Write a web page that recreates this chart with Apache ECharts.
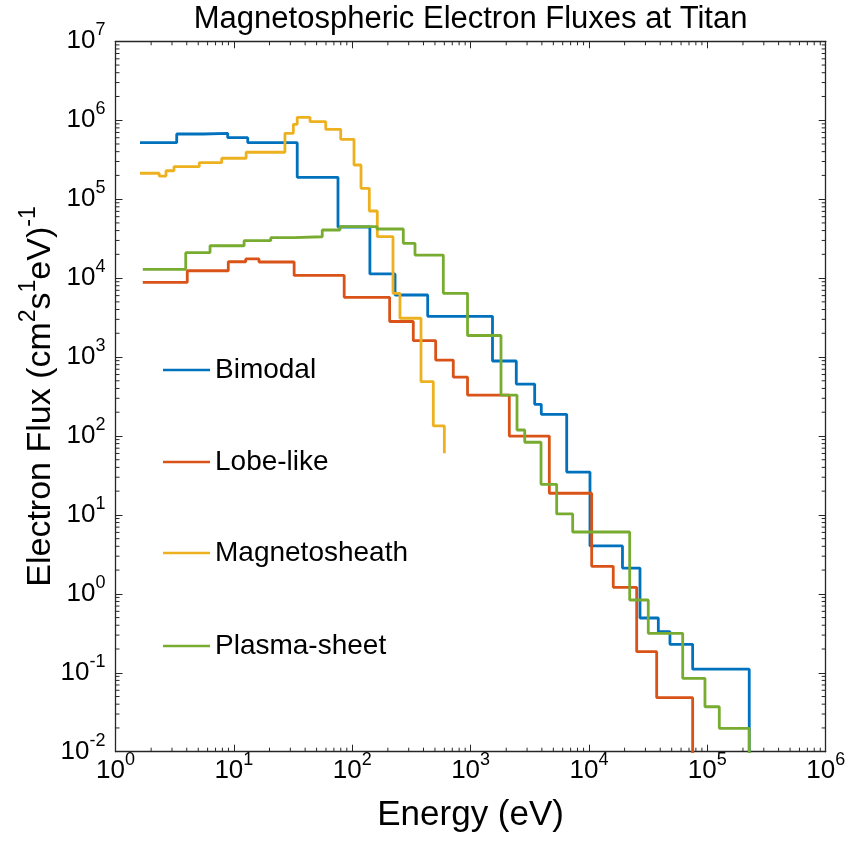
<!DOCTYPE html>
<html><head><meta charset="utf-8">
<script src="https://cdn.jsdelivr.net/npm/echarts@6/dist/echarts.min.js"></script>
<style>html,body{margin:0;padding:0;background:#fff}#c{width:849px;height:845px}</style>
</head><body><div id="c"></div>
<script>
// ---- data ----
const seriesNames = ['Bimodal', 'Lobe-like', 'Magnetosheath', 'Plasma-sheet'];

const bimodalE = [1.61, 3.29, 5.52, 8.87, 13.1, 34.3, 75.8, 141, 230, 434, 1531, 2432, 3478, 3955, 6486, 10200, 19190, 26980, 38540, 48330, 75160, 226000];
const bimodalF = [5.19e5, 6.69e5, 6.83e5, 6.01e5, 5.19e5, 1.89e5, 4.44e4, 1.13e4, 6110, 3280, 891, 455, 252, 188, 34.9, 4.04, 2.12, 0.494, 0.331, 0.229, 0.111, 1e-4];

const lobeE = [1.70, 4.04, 8.97, 12.6, 16.3, 32.3, 85.5, 207, 328, 507, 714, 942, 2123, 4624, 10540, 16040, 25300, 37330, 75160];
const lobeF = [8850, 1.24e4, 1.61e4, 1.75e4, 1.60e4, 1.08e4, 5710, 2820, 1610, 916, 558, 330, 99.8, 18.8, 2.23, 1.21, 0.185, 0.0483, 1e-4];

const sheathE = [1.61, 2.34, 2.67, 3.12, 5.10, 7.89, 12.7, 27.0, 31.8, 34.3, 44.0, 59.7, 79.9, 103.5, 118.6, 139.4, 162.8, 221, 253, 381, 484, 600];
const sheathF = [2.13e5, 1.96e5, 2.29e5, 2.58e5, 2.90e5, 3.30e5, 3.93e5, 6.83e5, 8.87e5, 1.09e6, 9.58e5, 7.68e5, 5.73e5, 2.71e5, 1.37e5, 7.08e4, 3.36e4, 6410, 3100, 487, 134, 60.3];

const plasmaE = [1.70, 3.92, 6.29, 12.2, 20.5, 32.4, 55.8, 78.8, 162, 270, 339, 588, 942, 1806, 2466, 2866, 3935, 5336, 7285, 22080, 31700, 61940, 95500, 126200, 226000];
const plasmaF = [1.29e4, 2.10e4, 2.57e4, 2.98e4, 3.25e4, 3.34e4, 4.07e4, 4.48e4, 4.19e4, 2.76e4, 1.96e4, 6410, 1875, 330, 119, 83.2, 24.4, 10.3, 6.07, 0.835, 0.316, 0.0851, 0.0371, 0.0198, 1e-4];

const xMin = 1, xMax = 1e6, yMin = 1e-2, yMax = 1e7;
const xDecades = [1, 10, 100, 1000, 1e4, 1e5];
const yDecades = [1e-2, 1e-1, 1, 10, 100, 1e3, 1e4, 1e5, 1e6];
const minorMult = [2, 3, 4, 5, 6, 7, 8, 9];

// ---- build ----
const FONT = "'Liberation Sans', Arial, Helvetica, sans-serif";
const colors = ['#0072BD', '#D95319', '#EDB120', '#77AC30'];
const pairs = (xs, ys) => xs.map((x, i) => [x, ys[i]]);
const seriesData = [pairs(bimodalE, bimodalF), pairs(lobeE, lobeF), pairs(sheathE, sheathF), pairs(plasmaE, plasmaF)];

const xMinor = [];
xDecades.forEach(d => minorMult.forEach(m => xMinor.push([d * m, 1])));
const yMinor = [];
yDecades.forEach(d => minorMult.forEach(m => yMinor.push([10, d * m])));

const AX = '#262626';
const supFmt = v => '{b|10}{s|' + Math.round(Math.log10(v)) + '}';
const tickRich = {
  b: {fontSize: 26, lineHeight: 26, verticalAlign: 'bottom', color: '#000', fontFamily: FONT},
  s: {fontSize: 18, lineHeight: 18, padding: [0, 0, 15, 0], verticalAlign: 'bottom', color: '#000', fontFamily: FONT}
};

function logAxis(extra) {
  return Object.assign({
    type: 'log', logBase: 10,
    axisLine: {show: true, onZero: false, lineStyle: {color: AX, width: 1.3}},
    axisTick: {show: true, inside: true, length: 7, lineStyle: {color: AX, width: 1}},
    splitLine: {show: false},
    minorTick: {show: false},
    nameMoveOverlap: false
  }, extra);
}

const xAxes = [
  logAxis({min: xMin, max: xMax, splitNumber: 6, position: 'bottom',
    axisLabel: {formatter: supFmt, rich: tickRich, margin: 6},
    name: 'Energy (eV)', nameLocation: 'middle', nameGap: 46,
    nameTextStyle: {fontSize: 35, color: '#000', fontFamily: FONT}}),
  logAxis({min: xMin, max: xMax, splitNumber: 6, position: 'top', axisLabel: {show: false}})
];
const yAxes = [
  logAxis({min: yMin, max: yMax, splitNumber: 9, position: 'left',
    axisLabel: {formatter: supFmt, rich: tickRich, margin: 10},
    name: 'Electron Flux (cm{s|2}s{s|1}eV){s|-1}', nameLocation: 'middle', nameGap: 58,
    nameTextStyle: {fontSize: 34, lineHeight: 34, verticalAlign: 'bottom', color: '#000', fontFamily: FONT,
      rich: {s: {fontSize: 23, lineHeight: 23, padding: [0, 0, 17, 0], verticalAlign: 'bottom', color: '#000', fontFamily: FONT}}}}),
  logAxis({min: yMin, max: yMax, splitNumber: 9, position: 'right', axisLabel: {show: false}})
];

function minorX(params, api) {
  const v = api.value(0);
  const b = api.coord([v, yMin]), t = api.coord([v, yMax]);
  return {type: 'group', children: [
    {type: 'line', shape: {x1: b[0], y1: b[1], x2: b[0], y2: b[1] - 4}, style: {stroke: AX, lineWidth: 1}},
    {type: 'line', shape: {x1: t[0], y1: t[1], x2: t[0], y2: t[1] + 4}, style: {stroke: AX, lineWidth: 1}}
  ]};
}
function minorY(params, api) {
  const v = api.value(1);
  const l = api.coord([xMin, v]), r = api.coord([xMax, v]);
  return {type: 'group', children: [
    {type: 'line', shape: {x1: l[0], y1: l[1], x2: l[0] + 4, y2: l[1]}, style: {stroke: AX, lineWidth: 1}},
    {type: 'line', shape: {x1: r[0], y1: r[1], x2: r[0] - 4, y2: r[1]}, style: {stroke: AX, lineWidth: 1}}
  ]};
}

const series = seriesNames.map((n, i) => ({
  name: n, type: 'line', step: 'end', data: seriesData[i], symbol: 'none',
  color: colors[i], lineStyle: {color: colors[i], width: 2.8}, clip: true, z: 3, animation: false
}));
series.push({type: 'custom', renderItem: minorX, data: xMinor, silent: true, z: 4, animation: false});
series.push({type: 'custom', renderItem: minorY, data: yMinor, silent: true, z: 4, animation: false});

const legendCenters = [370, 462, 553, 646];
const legends = seriesNames.map((n, i) => ({
  data: [n], left: 163, top: legendCenters[i] - 15, orient: 'vertical', icon: 'rect',
  itemWidth: 47, itemHeight: 2.5, itemGap: 0, padding: 0, selectedMode: false,
  textStyle: {fontSize: 28, lineHeight: 30, color: '#000', fontFamily: FONT}
}));

const chart = echarts.init(document.getElementById('c'), null, {renderer: 'canvas'});
chart.setOption({
  animation: false,
  backgroundColor: '#fff',
  grid: {left: 115.5, right: 23.3, top: 41.3, bottom: 93.3, show: false},
  xAxis: xAxes,
  yAxis: yAxes,
  legend: legends,
  series: series,
  graphic: [{type: 'text', x: 470.6, y: 4, z: 10,
    style: {text: 'Magnetospheric Electron Fluxes at Titan', textAlign: 'center', textVerticalAlign: 'top',
      fontSize: 31, fill: '#000', fontFamily: FONT}}]
});
</script></body></html>
